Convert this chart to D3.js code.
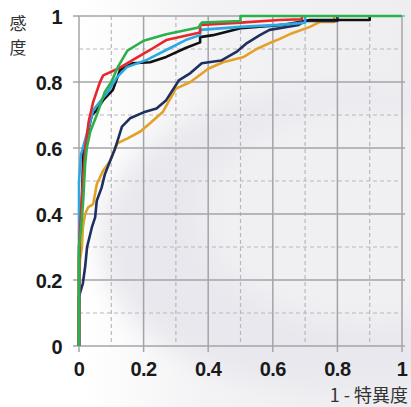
<!DOCTYPE html>
<html>
<head>
<meta charset="utf-8">
<script src="https://cdn.jsdelivr.net/npm/d3@7"></script>
<style>
  body { margin: 0; background: #fff; }
  svg { display: block; }
</style>
</head>
<body>
<div id="chart"></div>
<script>
// ROC curves, values as [1 - specificity, sensitivity]
var ticks = [0, 0.2, 0.4, 0.6, 0.8, 1]
var minorTicks = [0.1, 0.3, 0.5, 0.7, 0.9]
var tickLabels = ['0', '0.2', '0.4', '0.6', '0.8', '1']

var orange = [[0,0],[0,0.1],[0.003,0.26],[0.009,0.3],[0.012,0.36],[0.019,0.4],[0.028,0.42],[0.044,0.43],[0.055,0.49],[0.074,0.53],[0.096,0.56],[0.105,0.584],[0.12,0.615],[0.152,0.63],[0.19,0.65],[0.22,0.675],[0.26,0.71],[0.3,0.78],[0.345,0.8],[0.4,0.84],[0.446,0.86],[0.51,0.876],[0.55,0.9],[0.59,0.918],[0.62,0.93],[0.66,0.948],[0.715,0.967],[0.746,0.982],[0.79,0.982],[0.79,1]]
var navy = [[0,0],[0,0.15],[0.012,0.19],[0.019,0.24],[0.025,0.3],[0.04,0.36],[0.05,0.39],[0.055,0.44],[0.07,0.48],[0.08,0.52],[0.096,0.56],[0.11,0.594],[0.12,0.624],[0.133,0.665],[0.158,0.69],[0.2,0.708],[0.24,0.72],[0.27,0.745],[0.31,0.806],[0.345,0.827],[0.38,0.857],[0.44,0.865],[0.49,0.893],[0.52,0.918],[0.56,0.942],[0.59,0.958],[0.68,0.973],[0.7,0.985],[0.8,0.985],[0.8,1]]
var black = [[0,0],[0,0.26],[0.003,0.36],[0.009,0.44],[0.012,0.54],[0.013,0.594],[0.028,0.65],[0.04,0.7],[0.055,0.715],[0.075,0.745],[0.105,0.776],[0.127,0.836],[0.167,0.857],[0.22,0.86],[0.27,0.876],[0.33,0.903],[0.375,0.92],[0.375,0.936],[0.415,0.942],[0.5,0.963],[0.63,0.973],[0.715,0.988],[0.9,0.988],[0.9,1]]
var blue = [[0,0],[0,0.5],[0.006,0.58],[0.025,0.645],[0.044,0.715],[0.087,0.767],[0.118,0.815],[0.148,0.845],[0.21,0.867],[0.27,0.897],[0.33,0.927],[0.375,0.942],[0.375,0.958],[0.5,0.967],[0.62,0.973],[0.7,0.98],[0.7,1]]
var red = [[0,0],[0,0.3],[0.006,0.4],[0.012,0.5],[0.019,0.6],[0.03,0.68],[0.044,0.74],[0.065,0.8],[0.075,0.82],[0.12,0.84],[0.167,0.867],[0.22,0.897],[0.27,0.927],[0.375,0.95],[0.375,0.973],[0.5,0.98],[0.62,0.988],[0.69,0.99],[0.69,1]]
var green = [[0,0],[0,0.3],[0.006,0.35],[0.013,0.44],[0.019,0.55],[0.024,0.6],[0.035,0.65],[0.055,0.7],[0.08,0.77],[0.1,0.8],[0.12,0.845],[0.15,0.895],[0.2,0.925],[0.27,0.945],[0.37,0.965],[0.38,0.98],[0.5,0.985],[0.5,1],[1,1]]

var series = [
	{name:'orange', color:'#e3a125', data:orange},
	{name:'navy', color:'#1f2f5f', data:navy},
	{name:'black', color:'#111111', data:black},
	{name:'blue', color:'#2aaae2', data:blue},
	{name:'red', color:'#e8262c', data:red},
	{name:'green', color:'#2cb04b', data:green}
]

var width = 411, height = 407
var svg = d3.select('#chart').append('svg').attr('width', width).attr('height', height)

var x = d3.scaleLinear().domain([0, 1]).range([79, 402])
var y = d3.scaleLinear().domain([0, 1]).range([346, 16])

// pale backdrop
var defs = svg.append('defs')
var grad = defs.append('linearGradient').attr('id', 'bg').attr('x1', 0).attr('x2', 1).attr('y1', 0).attr('y2', 0)
grad.append('stop').attr('offset', '0.2').attr('stop-color', '#ffffff')
grad.append('stop').attr('offset', '0.5').attr('stop-color', '#f3f3f5')
grad.append('stop').attr('offset', '1').attr('stop-color', '#eeeef1')
defs.append('filter').attr('id', 'soft').append('feGaussianBlur').attr('stdDeviation', 12)
svg.append('rect').attr('width', width).attr('height', height).attr('fill', 'url(#bg)')
svg.append('ellipse').attr('cx', 330).attr('cy', 240).attr('rx', 230).attr('ry', 150)
	.attr('fill', '#e8e8ee').attr('filter', 'url(#soft)')
svg.append('ellipse').attr('cx', 370).attr('cy', 215).attr('rx', 170).attr('ry', 110)
	.attr('fill', '#f0f0f3').attr('filter', 'url(#soft)')

var grid = svg.append('g')
grid.selectAll('.minor-v').data(minorTicks).enter().append('line')
	.attr('x1', function(d) { return x(d) }).attr('x2', function(d) { return x(d) })
	.attr('y1', y(1)).attr('y2', y(0))
	.attr('stroke', '#b8b8bc').attr('stroke-width', 1.2).attr('stroke-dasharray', '4,3')
grid.selectAll('.minor-h').data(minorTicks).enter().append('line')
	.attr('y1', function(d) { return y(d) }).attr('y2', function(d) { return y(d) })
	.attr('x1', x(0)).attr('x2', x(1))
	.attr('stroke', '#b8b8bc').attr('stroke-width', 1.2).attr('stroke-dasharray', '4,3')
grid.selectAll('.major-v').data(ticks).enter().append('line')
	.attr('x1', function(d) { return x(d) }).attr('x2', function(d) { return x(d) })
	.attr('y1', y(1)).attr('y2', y(0) + 6)
	.attr('stroke', '#a4a4a8').attr('stroke-width', 1.5)
grid.selectAll('.major-h').data(ticks).enter().append('line')
	.attr('y1', function(d) { return y(d) }).attr('y2', function(d) { return y(d) })
	.attr('x1', x(0) - 6).attr('x2', x(1) + 3)
	.attr('stroke', '#a4a4a8').attr('stroke-width', 1.5)

var line = d3.line()
	.x(function(d) { return x(d[0]) })
	.y(function(d) { return y(d[1]) })
	.curve(d3.curveLinear)

svg.append('g').selectAll('path').data(series).enter().append('path')
	.attr('d', function(s) { return line(s.data) })
	.attr('fill', 'none')
	.attr('stroke', function(s) { return s.color })
	.attr('stroke-width', 2.6)
	.attr('stroke-linejoin', 'round')

var font = '"Liberation Sans", Arial, sans-serif'
svg.append('g').selectAll('text').data(ticks).enter().append('text')
	.attr('x', 62).attr('y', function(d) { return y(d) + 8 })
	.attr('text-anchor', 'end')
	.style('font-family', font).style('font-size', '20px').style('font-weight', 'bold')
	.style('letter-spacing', '-0.5px').attr('fill', '#1a1a1a')
	.text(function(d, i) { return tickLabels[i] })
svg.append('g').selectAll('text').data(ticks).enter().append('text')
	.attr('x', function(d) { return x(d) }).attr('y', 376)
	.attr('text-anchor', 'middle')
	.style('font-family', font).style('font-size', '20px').style('font-weight', 'bold')
	.style('letter-spacing', '-0.5px').attr('fill', '#1a1a1a')
	.text(function(d, i) { return tickLabels[i] })

var cjk = '"Noto Sans CJK JP", sans-serif'
svg.append('text').attr('x', 18).attr('y', 30).attr('text-anchor', 'middle')
	.style('font-family', cjk).style('font-size', '17px').attr('fill', '#333').text('感')
svg.append('text').attr('x', 18).attr('y', 54).attr('text-anchor', 'middle')
	.style('font-family', cjk).style('font-size', '17px').attr('fill', '#333').text('度')
svg.append('text').attr('x', 408).attr('y', 402).attr('text-anchor', 'end')
	.style('font-family', cjk).style('font-size', '18px').attr('fill', '#333').text('1 - 特異度')
</script>
</body>
</html>
